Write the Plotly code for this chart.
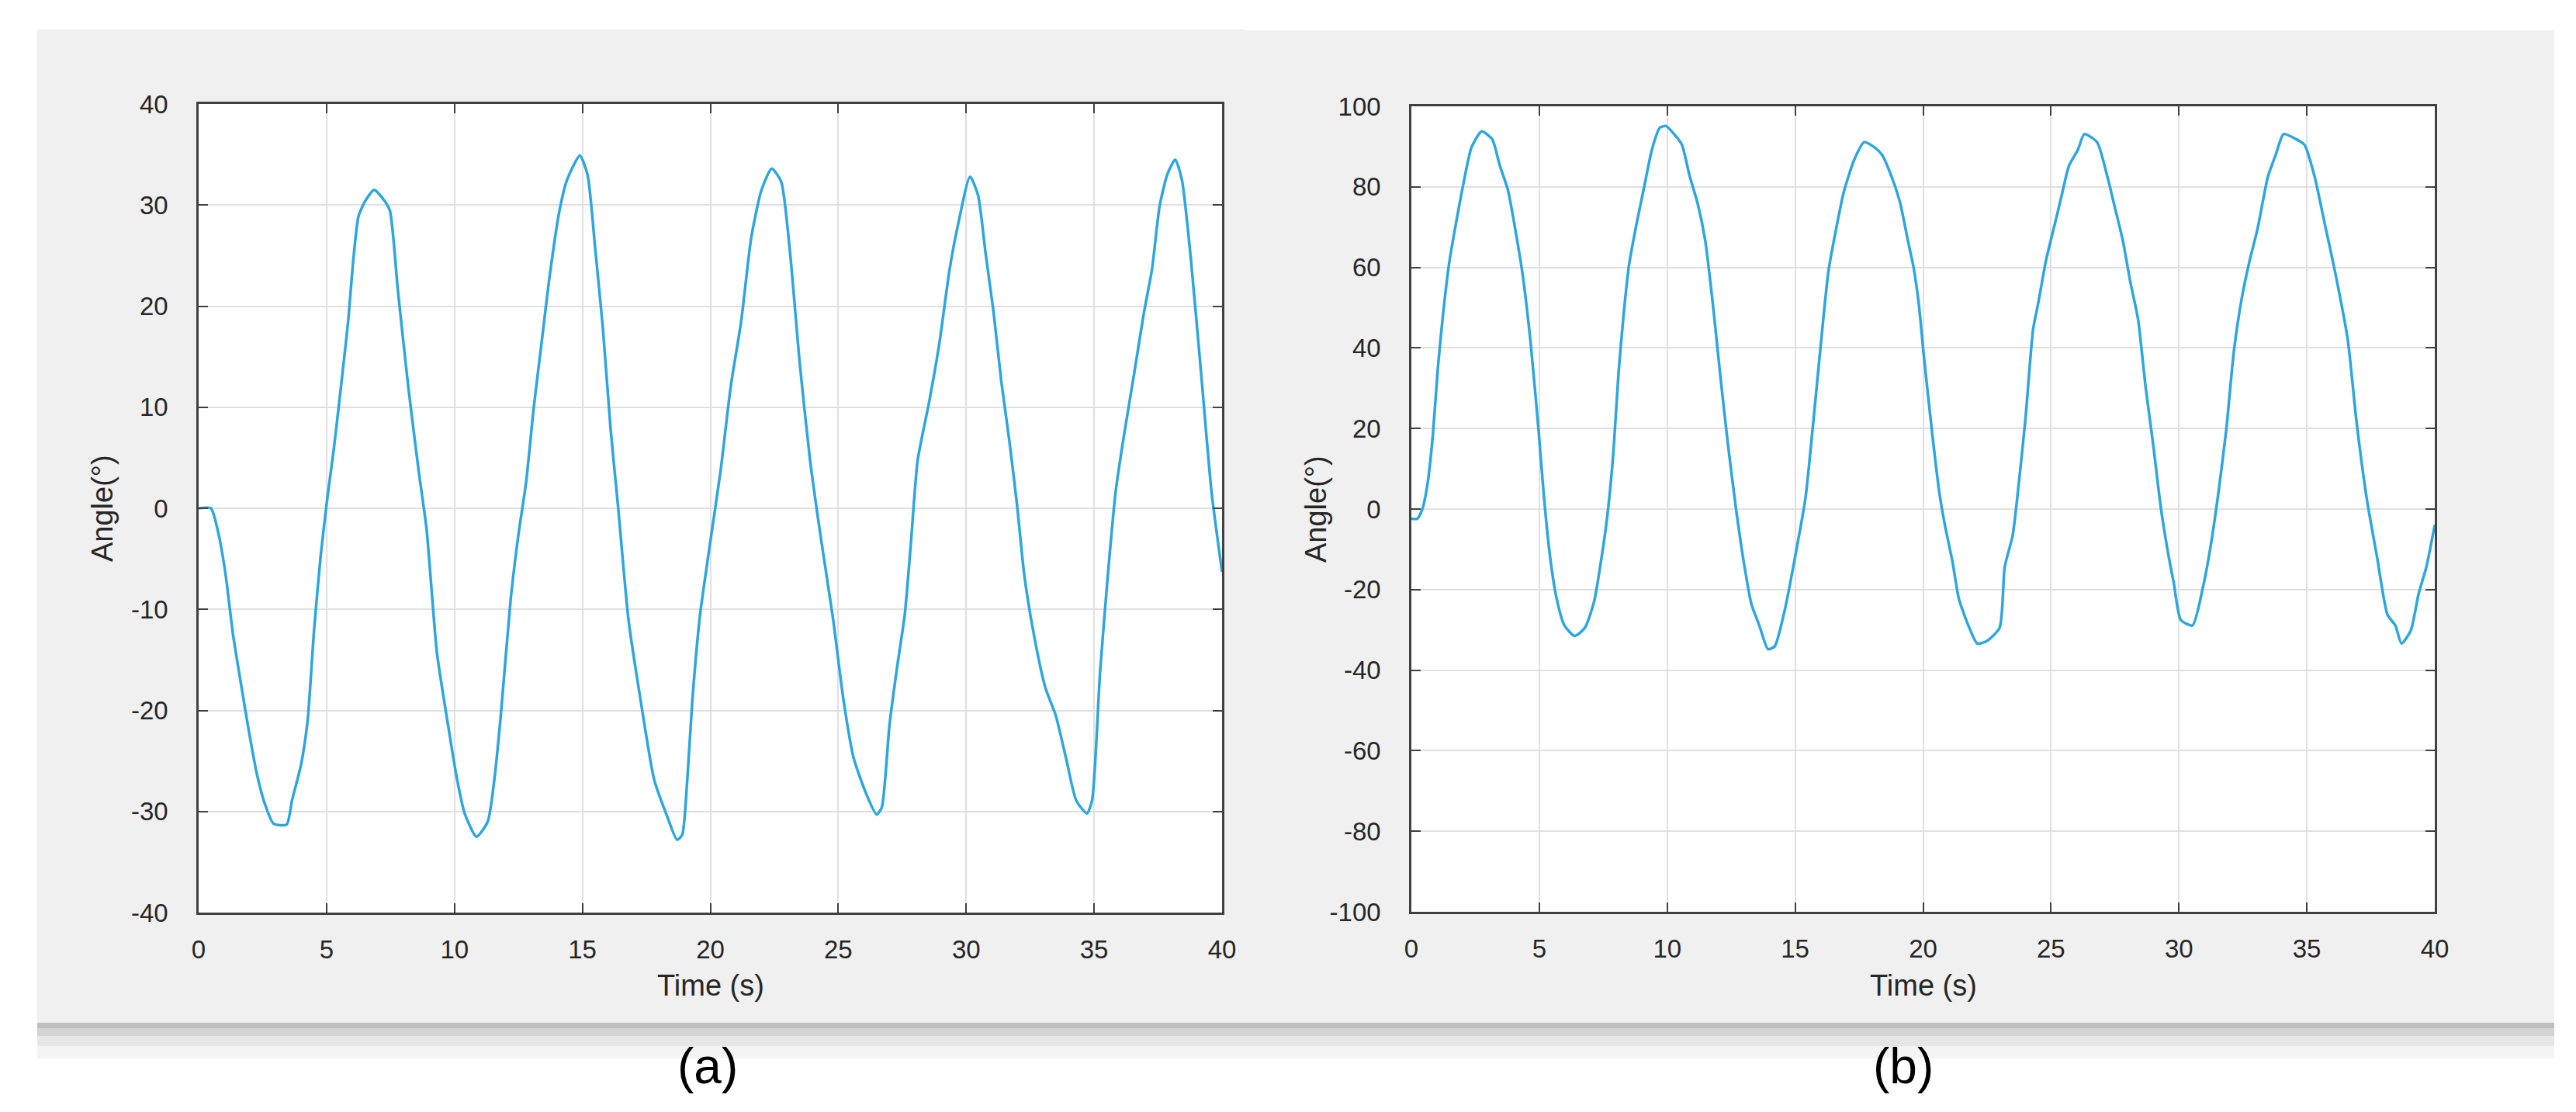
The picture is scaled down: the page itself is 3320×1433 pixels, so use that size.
import plotly.graph_objects as go

# (a) angle vs time
time_a = [0, 0.48, 0.74, 1.04, 1.35, 1.65, 1.96, 2.27, 2.57, 2.93, 3.44, 3.65, 4.0, 4.26, 4.51,
          4.77, 5.03, 5.28, 5.54, 5.84, 6.05, 6.25, 6.51, 6.86, 7.27, 7.48, 7.79, 8.19, 8.6,
          8.91, 9.31, 9.72, 10.1, 10.4, 10.86, 11.3, 11.56, 11.81, 12.2, 12.5, 12.8, 13.1,
          13.4, 13.7, 14.1, 14.4, 14.9, 15.2, 15.5, 15.8, 16.1, 16.4, 16.8, 17.3, 17.8, 18.3,
          18.7, 18.9, 19.1, 19.3, 19.6, 19.96, 20.4, 20.8, 21.2, 21.6, 22.0, 22.4, 22.77,
          23.1, 23.5, 23.9, 24.3, 24.8, 25.2, 25.6, 26.1, 26.5, 26.7, 27.0, 27.3, 27.6, 27.85,
          28.1, 28.55, 28.95, 29.35, 29.66, 30.15, 30.46, 30.76, 31.07, 31.37, 31.68, 31.98,
          32.28, 32.69, 33.1, 33.5, 33.9, 34.3, 34.72, 34.92, 35.23, 35.53, 35.84, 36.14,
          36.55, 36.95, 37.26, 37.56, 37.87, 38.17, 38.43, 38.78, 39.19, 39.59, 40.0]
angle_a = [0, 0, -2.1, -6.3, -12.6, -17.3, -22.0, -26.2, -29.1, -31.2, -31.3, -28.9, -25.4, -21.0,
           -12.1, -4.7, 1.0, 5.8, 11.5, 18.4, 24.7, 28.9, 30.4, 31.5, 30.4, 29.4, 21.5, 12.1, 3.7,
           -2.1, -14.2, -21.0, -26.8, -30.2, -32.5, -31.0, -26.8, -20.5, -8.9, -2.6, 2.6, 10.0,
           16.3, 22.6, 29.4, 32.5, 34.9, 33.0, 25.7, 17.8, 7.9, 0.0, -11.0, -19.4, -26.8, -30.4,
           -32.8, -32.3, -26.8, -18.9, -10.5, -4.0, 3.7, 12.1, 18.4, 26.8, 31.5, 33.6, 32.3,
           25.7, 14.2, 4.7, -2.6, -11.0, -18.9, -24.7, -28.3, -30.3, -29.6, -21.5, -15.7, -10.5,
           -3.1, 4.7, 10.5, 16.3, 23.6, 27.8, 32.8, 31.0, 25.2, 19.4, 12.6, 6.8, 0.5, -6.8,
           -13.1, -17.8, -20.5, -24.7, -28.9, -30.2, -28.9, -16.3, -6.8, 1.6, 6.8, 13.1, 19.4,
           23.6, 29.9, 33.1, 34.5, 32.5, 24.7, 13.1, 1.6, -6.3]

# (b) angle vs time
time_b = [0, 0.23, 0.43, 0.64, 0.84, 1.04, 1.24, 1.49, 1.74, 2.05, 2.35, 2.75, 3.16, 3.46, 3.77,
          4.06, 4.36, 4.67, 4.97, 5.17, 5.42, 5.68, 5.98, 6.38, 6.78, 7.14, 7.44, 7.69, 7.9, 8.1,
          8.3, 8.5, 8.8, 9.1, 9.4, 9.71, 9.95, 10.27, 10.57, 10.88, 11.18, 11.48, 11.78, 12.08,
          12.38, 12.69, 12.99, 13.29, 13.6, 13.94, 14.2, 14.6, 15.0, 15.4, 15.7, 16.0, 16.3,
          16.6, 16.9, 17.3, 17.7, 18.1, 18.4, 18.8, 19.1, 19.4, 19.62, 19.83, 20.03, 20.34,
          20.64, 20.85, 21.15, 21.4, 21.77, 22.12, 22.48, 22.99, 23.19, 23.5, 23.7, 24.0, 24.3,
          24.5, 24.8, 25.1, 25.4, 25.7, 26.05, 26.3, 26.8, 27.2, 27.5, 27.8, 28.1, 28.4, 28.7,
          29.0, 29.3, 29.6, 29.8, 30.07, 30.53, 30.93, 31.24, 31.54, 31.85, 32.15, 32.46,
          32.76, 33.07, 33.48, 33.78, 34.09, 34.5, 34.9, 35.3, 35.7, 36.1, 36.6, 36.93, 37.34,
          37.74, 38.15, 38.46, 38.7, 39.06, 39.37, 39.67, 40.0]
angle_b = [-2.4, -2.4, 0, 6.6, 18.4, 35.4, 48.5, 61.6, 70.8, 81.3, 89.8, 93.8, 91.8, 85.2, 79.3,
           69.5, 57.7, 40.7, 19.7, 3.9, -11.8, -22.3, -28.9, -31.5, -29.5, -23.0, -11.8, 0, 14.4,
           34.1, 48.5, 60.3, 70.8, 80.0, 89.2, 94.7, 95.1, 93.1, 90.5, 82.6, 76.1, 66.9, 51.1,
           32.8, 15.7, 0, -13.1, -23.6, -28.9, -34.8, -34.1, -24.9, -11.8, 2.6, 21.0, 40.7, 59.0,
           69.5, 78.7, 86.6, 91.1, 89.8, 87.9, 82.0, 76.1, 66.9, 60.3, 51.1, 38.0, 19.7, 3.9,
           -3.9, -13.1, -22.3, -28.9, -33.4, -32.8, -29.5, -14.4, -6.6, 3.9, 22.3, 44.6, 51.1,
           61.6, 69.5, 77.4, 85.2, 89.2, 93.1, 91.1, 82.6, 74.8, 66.9, 56.4, 47.2, 30.2, 15.7, 0,
           -11.8, -18.4, -27.5, -28.9, -19.7, -9.2, 3.9, 19.7, 39.3, 52.5, 61.6, 69.5, 82.6,
           87.9, 93.1, 92.1, 90.5, 82.6, 70.8, 59.0, 42.0, 22.3, 2.6, -11.8, -26.2, -28.9,
           -33.4, -30.2, -21.0, -14.4, -3.9]

x_ticks = list(range(0, 41, 5))
y_ticks_a = list(range(-40, 41, 10))
y_ticks_b = list(range(-100, 101, 20))

W, H = 3320, 1433
FONT = "Liberation Sans, Arial, Helvetica, sans-serif"
LINE_COLOR = "#2EA6DD"
AX_COLOR = "#404040"


def px(x):
    return x / W


def py(y):
    return 1 - y / H


fig = go.Figure()
fig.add_trace(go.Scatter(x=time_a, y=angle_a, mode="lines", xaxis="x", yaxis="y",
                         line=dict(color=LINE_COLOR, width=3.5, shape="spline", smoothing=0.6),
                         showlegend=False))
fig.add_trace(go.Scatter(x=time_b, y=angle_b, mode="lines", xaxis="x2", yaxis="y2",
                         line=dict(color=LINE_COLOR, width=3.5, shape="spline", smoothing=0.6),
                         showlegend=False))

axis_style = dict(
    showline=True, linecolor=AX_COLOR, linewidth=2.5, mirror="ticks",
    ticks="inside", ticklen=12, tickwidth=2, tickcolor=AX_COLOR,
    showgrid=True, gridcolor="#E0E0E0", gridwidth=2, zeroline=False,
    tickfont=dict(family=FONT, size=33, color="#262626"), automargin=False,
)

fig.update_layout(
    width=W, height=H,
    margin=dict(l=0, r=0, t=0, b=0),
    paper_bgcolor="white", plot_bgcolor="white",
    xaxis=dict(domain=[px(248), px(1567)], range=[0, 40], tickvals=x_ticks,
               ticktext=[str(v) for v in x_ticks],
               anchor="y", ticklabelstandoff=17, **axis_style),
    yaxis=dict(domain=[py(1168), py(126)], range=[-40, 40], tickvals=y_ticks_a,
               ticktext=[str(v) for v in y_ticks_a],
               anchor="x", ticklabelstandoff=30, **axis_style),
    xaxis2=dict(domain=[px(1811), px(3130)], range=[0, 40], tickvals=x_ticks,
                ticktext=[str(v) for v in x_ticks],
                anchor="y2", ticklabelstandoff=17, **axis_style),
    yaxis2=dict(domain=[py(1167), py(129)], range=[-100, 100], tickvals=y_ticks_b,
                ticktext=[str(v) for v in y_ticks_b],
                anchor="x2", ticklabelstandoff=30, **axis_style),
)

# figure window backgrounds, their bottom shadows, and the white axes areas
shapes = []
for x0, x1, y0 in [(40, 1598, 30), (1598, 3284, 31)]:
    shapes.append(dict(type="rect", xref="paper", yref="paper", layer="below",
                       x0=px(x0), x1=px(x1), y0=py(1310), y1=py(y0),
                       fillcolor="#F0F0F0", line=dict(width=0)))
    for ya, yb, c in [(1310, 1317, "#BEBEBE"), (1317, 1327, "#D4D4D4"),
                      (1327, 1340, "#E6E6E6"), (1340, 1356, "#F4F4F4")]:
        shapes.append(dict(type="rect", xref="paper", yref="paper", layer="below",
                           x0=px(x0), x1=px(x1), y0=py(yb), y1=py(ya),
                           fillcolor=c, line=dict(width=0)))
for xr, yr in [("x domain", "y domain"), ("x2 domain", "y2 domain")]:
    shapes.append(dict(type="rect", xref=xr, yref=yr, layer="below",
                       x0=0, x1=1, y0=0, y1=1, fillcolor="white", line=dict(width=0)))
fig.update_layout(shapes=shapes)

label_font = dict(family=FONT, size=38, color="#262626")
annotations = [
    dict(text="Time (s)", x=px((248 + 1567) / 2), y=py(1262), font=label_font),
    dict(text="Time (s)", x=px((1811 + 3130) / 2), y=py(1262), font=label_font),
    dict(text="Angle(°)", x=px(124), y=py(647), textangle=-90, font=label_font),
    dict(text="Angle(°)", x=px(1688), y=py(648), textangle=-90, font=label_font),
    dict(text="(a)", x=px(904), y=py(1366), font=dict(family=FONT, size=64, color="black")),
    dict(text="(b)", x=px(2445), y=py(1366), font=dict(family=FONT, size=64, color="black")),
]
for a in annotations:
    a.update(xref="paper", yref="paper", showarrow=False, xanchor="center", yanchor="middle")
fig.update_layout(annotations=annotations)

fig.write_html("out.html")
